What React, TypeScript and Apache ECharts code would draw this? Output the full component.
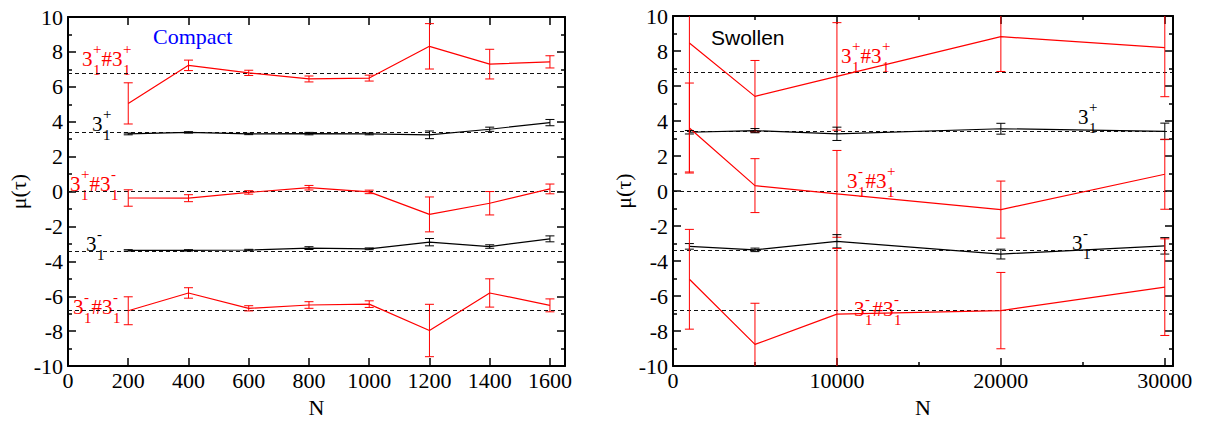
import React, { useEffect, useRef } from "react";
import * as echarts from "echarts";

// ---------- data ----------
const N_COMPACT = [200, 400, 600, 800, 1000, 1200, 1400, 1600];
const C_PP = [5.05, 7.23, 6.8, 6.45, 6.5, 8.32, 7.3, 7.43];
const C_PP_ERR = [1.18, 0.3, 0.15, 0.17, 0.17, 1.3, 0.85, 0.35];
const C_P = [3.3, 3.39, 3.3, 3.32, 3.3, 3.25, 3.57, 3.95];
const C_P_ERR = [0.05, 0.04, 0.04, 0.07, 0.05, 0.22, 0.12, 0.18];
const C_PM = [-0.37, -0.38, -0.05, 0.22, -0.02, -1.31, -0.67, 0.15];
const C_PM_ERR = [0.47, 0.2, 0.1, 0.13, 0.1, 1.0, 0.67, 0.28];
const C_M = [-3.37, -3.37, -3.35, -3.24, -3.28, -2.9, -3.15, -2.71];
const C_M_ERR = [0.04, 0.04, 0.04, 0.08, 0.05, 0.21, 0.1, 0.17];
const C_MM = [-6.83, -5.81, -6.69, -6.5, -6.45, -7.96, -5.81, -6.52];
const C_MM_ERR = [0.8, 0.3, 0.15, 0.19, 0.19, 1.5, 0.81, 0.37];

const N_SWOLLEN = [1000, 5000, 10000, 20000, 30000];
const S_PP = [8.46, 5.41, 6.55, 8.82, 8.19];
const S_PP_ERR = [7.37, 2.05, 3.07, 1.99, 2.8];
const S_P = [3.36, 3.45, 3.27, 3.56, 3.41];
const S_P_ERR = [0.1, 0.12, 0.38, 0.31, 0.47];
const S_MP = [3.6, 0.31, -0.16, -1.06, 0.96];
const S_MP_ERR = [2.57, 1.54, 2.48, 1.63, 2.0];
const S_M = [-3.16, -3.36, -2.87, -3.6, -3.13];
const S_M_ERR = [0.16, 0.1, 0.38, 0.28, 0.47];
const S_MM = [-5.04, -8.76, -7.03, -6.83, -5.49];
const S_MM_ERR = [2.85, 2.35, 3.75, 2.18, 2.76];

const REF_LEVELS = [6.8, 3.4, 0, -3.4, -6.8];

// ---------- style ----------
const RED = "#ff0000";
const BLACK = "#000000";
const SERIF = "Liberation Serif";
const SANS = "Liberation Sans";

type Part = string | [string, string, string];
const LABELS: { x: number; y: number; color: string; parts: Part[] }[] = [
  { x: 82, y: 58.5, color: RED, parts: [["3", "+", "1"], "#", ["3", "+", "1"]] },
  { x: 92, y: 123.5, color: BLACK, parts: [["3", "+", "1"]] },
  { x: 70, y: 183.5, color: RED, parts: [["3", "+", "1"], "#", ["3", "-", "1"]] },
  { x: 86, y: 244, color: BLACK, parts: [["3", "-", "1"]] },
  { x: 73, y: 306.5, color: RED, parts: [["3", "-", "1"], "#", ["3", "-", "1"]] },
  { x: 841, y: 56, color: RED, parts: [["3", "+", "1"], "#", ["3", "+", "1"]] },
  { x: 1078, y: 116.5, color: BLACK, parts: [["3", "+", "1"]] },
  { x: 847, y: 180.5, color: RED, parts: [["3", "-", "1"], "#", ["3", "+", "1"]] },
  { x: 1072, y: 242.5, color: BLACK, parts: [["3", "-", "1"]] },
  { x: 854, y: 309, color: RED, parts: [["3", "-", "1"], "#", ["3", "-", "1"]] },
];

let measureCtx: CanvasRenderingContext2D | null = null;
function measure(text: string, size: number, family: string): number {
  if (!measureCtx) measureCtx = document.createElement("canvas").getContext("2d");
  if (!measureCtx) return text.length * size * 0.5;
  measureCtx.font = `${size}px ${family}`;
  return measureCtx.measureText(text).width;
}

function textEl(x: number, y: number, text: string, size: number, family: string, color: string) {
  return {
    type: "text",
    x,
    y,
    silent: true,
    style: {
      text,
      fontSize: size,
      fontFamily: family,
      fill: color,
      textAlign: "left",
      textVerticalAlign: "middle",
    },
  };
}

function knotLabel(def: { x: number; y: number; color: string; parts: Part[] }) {
  const MAIN = 21;
  const SMALL = 15;
  const children: any[] = [];
  let cx = def.x;
  for (const p of def.parts) {
    if (typeof p === "string") {
      children.push(textEl(cx, def.y, p, MAIN, SERIF, def.color));
      cx += measure(p, MAIN, SERIF);
    } else {
      const [base, sup, sub] = p;
      children.push(textEl(cx, def.y, base, MAIN, SERIF, def.color));
      cx += measure(base, MAIN, SERIF) + 0.5;
      children.push(textEl(cx, def.y - 10, sup, SMALL, SERIF, def.color));
      children.push(textEl(cx, def.y + 11, sub, SMALL, SERIF, def.color));
      cx += Math.max(measure(sup, SMALL, SERIF), measure(sub, SMALL, SERIF));
    }
  }
  return { type: "group", children };
}

function zip(xs: number[], ys: number[]) {
  return xs.map((x, i) => [x, ys[i]]);
}
function zip3(xs: number[], ys: number[], es: number[]) {
  return xs.map((x, i) => [x, ys[i], es[i]]);
}

function lineSeries(grid: number, xs: number[], ys: number[], color: string, withRef: boolean) {
  const s: any = {
    type: "line",
    xAxisIndex: grid === 0 ? 0 : 2,
    yAxisIndex: grid === 0 ? 0 : 2,
    data: zip(xs, ys),
    symbol: "none",
    lineStyle: { color, width: 1.2 },
    itemStyle: { color },
    z: 3,
  };
  if (withRef) {
    s.markLine = {
      silent: true,
      symbol: ["none", "none"],
      label: { show: false },
      lineStyle: { color: "#111", width: 1, type: [4, 3] },
      data: REF_LEVELS.map((v) => ({ yAxis: v })),
      z: 1,
    };
  }
  return s;
}

function errSeries(grid: number, xs: number[], ys: number[], es: number[], color: string) {
  return {
    type: "custom",
    xAxisIndex: grid === 0 ? 0 : 2,
    yAxisIndex: grid === 0 ? 0 : 2,
    data: zip3(xs, ys, es),
    encode: { x: 0, y: 1 },
    z: 4,
    silent: true,
    renderItem: (params: any, api: any) => {
      const x = api.value(0);
      const y = api.value(1);
      const e = api.value(2);
      const cs = params.coordSys;
      const top = api.coord([x, y + e]);
      const bot = api.coord([x, y - e]);
      const px = top[0];
      const yTop = Math.max(top[1], cs.y);
      const yBot = Math.min(bot[1], cs.y + cs.height);
      const half = 4.5;
      const st = { stroke: color, lineWidth: 1 };
      const children: any[] = [
        { type: "line", shape: { x1: px, y1: yTop, x2: px, y2: yBot }, style: st },
      ];
      if (top[1] >= cs.y)
        children.push({ type: "line", shape: { x1: px - half, y1: top[1], x2: px + half, y2: top[1] }, style: st });
      if (bot[1] <= cs.y + cs.height)
        children.push({ type: "line", shape: { x1: px - half, y1: bot[1], x2: px + half, y2: bot[1] }, style: st });
      return { type: "group", children };
    },
  };
}

const axisLine = { show: true, onZero: false, lineStyle: { color: BLACK, width: 2 } };
const tickLabel = { fontSize: 22, fontFamily: SERIF, color: BLACK, formatter: (v: number) => String(v) };

export default function App() {
  const ref = useRef<HTMLDivElement>(null);
  useEffect(() => {
    document.body.style.margin = "0";
    if (!ref.current) return;
    const chart = echarts.init(ref.current, undefined, { renderer: "svg" });

    const grids = [
      { left: 68, top: 17, width: 497, height: 366 },
      { left: 673, top: 16, width: 500, height: 367 },
    ];

    const xMajor = (
      gridIndex: number,
      max: number,
      interval: number,
      position: string,
      labels: boolean,
      minor: boolean,
      name?: string
    ) => ({
      type: "value",
      gridIndex,
      min: 0,
      max,
      interval,
      position,
      axisLine,
      splitLine: { show: false },
      axisTick: { show: true, inside: true, length: 8, lineStyle: { color: BLACK, width: 1.5 } },
      minorTick: { show: minor, splitNumber: 2, length: 4, lineStyle: { color: BLACK, width: 1.5 } },
      minorSplitLine: { show: false },
      axisLabel: labels ? { ...tickLabel, margin: 3, showMaxLabel: false } : { show: false },
      name: name || "",
      nameLocation: "middle",
      nameGap: 18,
      nameTextStyle: { fontSize: 22, fontFamily: SERIF, color: BLACK, verticalAlign: "top" },
    });

    const yAx = (gridIndex: number, position: string, labels: boolean, name?: string) => ({
      type: "value",
      gridIndex,
      min: -10,
      max: 10,
      interval: 2,
      position,
      axisLine,
      splitLine: { show: false },
      axisTick: { show: true, inside: true, length: 8, lineStyle: { color: BLACK, width: 1.5 } },
      minorTick: { show: true, splitNumber: 2, length: 4, lineStyle: { color: BLACK, width: 1.5 } },
      minorSplitLine: { show: false },
      axisLabel: labels ? { ...tickLabel, margin: 5 } : { show: false },
      name: name || "",
      nameLocation: "middle",
      nameGap: 38,
      nameTextStyle: { fontSize: 22, fontFamily: SERIF, color: BLACK },
    });

    const option: any = {
      animation: false,
      backgroundColor: "#ffffff",
      textStyle: { fontFamily: SERIF },
      grid: grids,
      xAxis: [
        xMajor(0, 1650, 200, "bottom", true, false, "N"),
        xMajor(0, 1650, 200, "top", false, false),
        xMajor(1, 30500, 10000, "bottom", true, true, "N"),
        xMajor(1, 30500, 10000, "top", false, true),
      ],
      yAxis: [
        yAx(0, "left", true, "μ(τ)"),
        yAx(0, "right", false),
        yAx(1, "left", true, "μ(τ)"),
        yAx(1, "right", false),
      ],
      series: [
        lineSeries(0, N_COMPACT, C_PP, RED, false),
        lineSeries(0, N_COMPACT, C_P, BLACK, true),
        lineSeries(0, N_COMPACT, C_PM, RED, false),
        lineSeries(0, N_COMPACT, C_M, BLACK, false),
        lineSeries(0, N_COMPACT, C_MM, RED, false),
        errSeries(0, N_COMPACT, C_PP, C_PP_ERR, RED),
        errSeries(0, N_COMPACT, C_P, C_P_ERR, BLACK),
        errSeries(0, N_COMPACT, C_PM, C_PM_ERR, RED),
        errSeries(0, N_COMPACT, C_M, C_M_ERR, BLACK),
        errSeries(0, N_COMPACT, C_MM, C_MM_ERR, RED),
        lineSeries(1, N_SWOLLEN, S_PP, RED, false),
        lineSeries(1, N_SWOLLEN, S_P, BLACK, true),
        lineSeries(1, N_SWOLLEN, S_MP, RED, false),
        lineSeries(1, N_SWOLLEN, S_M, BLACK, false),
        lineSeries(1, N_SWOLLEN, S_MM, RED, false),
        errSeries(1, N_SWOLLEN, S_PP, S_PP_ERR, RED),
        errSeries(1, N_SWOLLEN, S_P, S_P_ERR, BLACK),
        errSeries(1, N_SWOLLEN, S_MP, S_MP_ERR, RED),
        errSeries(1, N_SWOLLEN, S_M, S_M_ERR, BLACK),
        errSeries(1, N_SWOLLEN, S_MM, S_MM_ERR, RED),
      ],
      graphic: [
        textEl(153, 36, "Compact", 22, SERIF, "#0000ff"),
        textEl(711, 37, "Swollen", 21, SANS, BLACK),
        ...LABELS.map(knotLabel),
      ],
    };

    chart.setOption(option);
    return () => chart.dispose();
  }, []);

  return <div ref={ref} style={{ width: 1210, height: 423 }} />;
}
